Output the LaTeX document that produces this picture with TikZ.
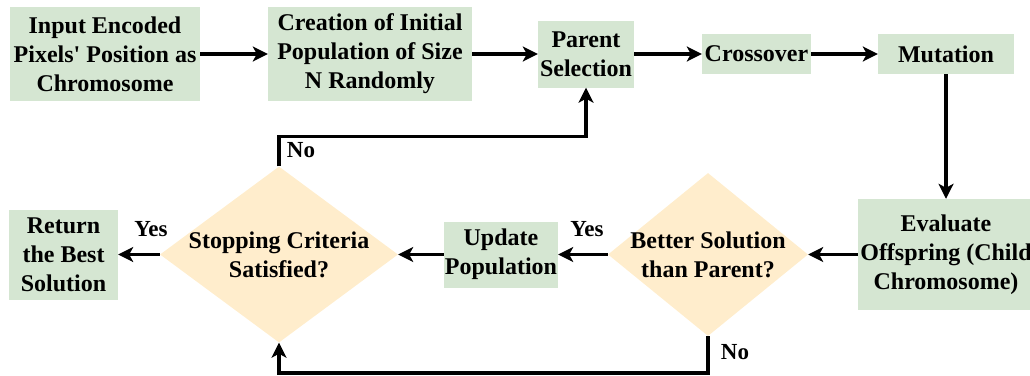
\documentclass[tikz,border=0pt]{standalone}
\usepackage{fontspec}
\setmainfont{Liberation Serif}[BoldFont={Liberation Serif Bold}]
\newfontfamily\diagfont{Liberation Serif Bold}
\usetikzlibrary{shapes.geometric,arrows.meta}
\definecolor{boxgreen}{HTML}{D5E6D2}
\definecolor{diaorange}{HTML}{FFEDCC}
\tikzset{
  txt/.style={font=\diagfont\fontsize{24}{29}\selectfont, align=center, text=black},
  box/.style={txt, fill=boxgreen, draw=none, inner sep=0pt},
  dia/.style={diamond, fill=diaorange, draw=none, inner sep=0pt},
  arr/.style={line width=3.5pt, -{Stealth[length=15pt,width=15pt,inset=4pt]}},
  lbl/.style={font=\diagfont\fontsize{23}{27}\selectfont, text=black, inner sep=0pt},
}
\begin{document}
\begin{tikzpicture}[x=1pt,y=-1pt]
\useasboundingbox (0,0) rectangle (1030,375);
\node[box, minimum width=190pt, minimum height=94pt] (inp) at (105,54) {Input Encoded\\Pixels' Position as\\Chromosome};
\node[box, minimum width=204pt, minimum height=94pt] (cre) at (370,54) {Creation of Initial\\Population of Size\\N Randomly};
\node[box, minimum width=96pt, minimum height=67pt] (par) at (586,54) {Parent\\Selection};
\node[box, minimum width=109pt, minimum height=40pt] (cro) at (756.5,54) {Crossover};
\node[box, minimum width=136pt, minimum height=40pt] (mut) at (946,54) {Mutation};
\node[box, minimum width=176pt, minimum height=111pt] (eva) at (946,254.5) {Evaluate\\Offspring (Child\\Chromosome)};
\node[dia, minimum width=200pt, minimum height=163pt, label={[txt]center:Better Solution\\than Parent?}] (bet) at (708,254.5) {};
\node[box, minimum width=114pt, minimum height=66pt] (upd) at (501,254.5) {Update\\Population};
\node[dia, minimum width=238pt, minimum height=176pt, label={[txt]center:Stopping Criteria\\Satisfied?}] (sto) at (279,254.5) {};
\node[box, minimum width=109pt, minimum height=90pt] (ret) at (63.5,254.5) {Return\\the Best\\Solution};

\draw[arr] (inp) -- (cre);
\draw[arr] (cre) -- (par);
\draw[arr] (par) -- (cro);
\draw[arr] (cro) -- (mut);
\draw[arr] (mut) -- (eva);
\draw[arr] (eva) -- (bet);
\draw[arr] (bet) -- (upd);
\draw[arr] (upd) -- (sto);
\draw[arr] (sto) -- (ret);
\draw[arr] (sto.north) -- ++(0,-30) -| (par.south);
\draw[arr] (bet.south) -- ++(0,37) -| (sto.south);

\node[lbl] (yes1) at (151,229) {Yes};
\node[lbl] (yes2) at (587,229) {Yes};
\node[lbl] (no1) at (301,150) {No};
\node[lbl] (no2) at (735,352) {No};
\end{tikzpicture}
\end{document}
